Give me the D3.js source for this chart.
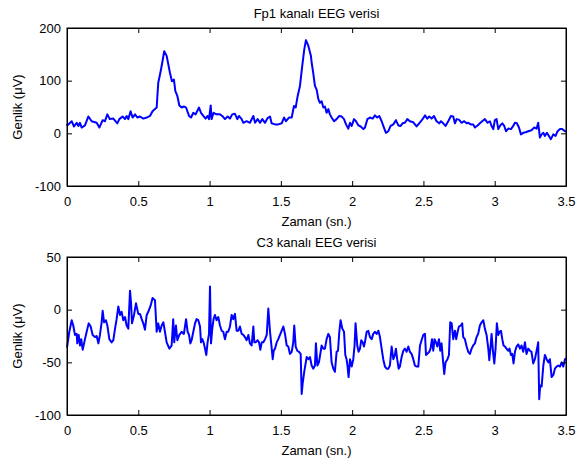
<!DOCTYPE html>
<meta charset="utf-8">
<script src="https://d3js.org/d3.v7.min.js"></script>
<style>
  body { margin: 0; background: #fff; }
  text { font-family: "Liberation Sans", Arial, sans-serif; }
</style>
<div id="chart"></div>
<script>
// values (time in s, amplitude in µV)
var fp1Time = [0,0.002,0.033,0.049,0.068,0.080,0.091,0.103,0.126,0.150,0.173,0.208,0.227,0.250,0.266,0.283,0.300,0.325,0.353,0.367,0.390,0.407,0.418,0.430,0.446,0.460,0.477,0.493,0.512,0.535,0.559,0.582,0.600,0.617,0.629,0.640,0.657,0.668,0.682,0.699,0.722,0.736,0.750,0.760,0.774,0.788,0.804,0.820,0.835,
  0.856,0.870,0.886,0.902,0.926,0.940,0.956,0.972,0.986,0.996,1.008,1.014,1.028,1.049,1.073,1.089,1.108,1.127,1.143,1.159,1.178,1.195,1.206,1.225,1.237,1.260,1.283,1.307,1.319,1.337,1.354,1.370,1.389,1.407,1.424,1.435,1.459,1.482,1.506,1.522,1.536,1.557,1.576,1.592,1.604,1.618,1.634,1.650,1.664,1.676,1.693,1.711,
  1.716,1.727,1.739,1.751,1.763,1.774,1.786,1.798,1.809,1.821,1.833,1.844,1.856,1.873,1.891,1.910,1.926,1.943,1.957,1.973,1.985,1.997,2.013,2.027,2.044,2.060,2.079,2.090,2.107,2.125,2.144,2.160,2.176,2.190,2.207,2.223,2.237,2.254,2.270,2.289,2.307,2.324,2.340,2.354,2.370,2.387,2.405,2.429,2.452,2.476,2.494,2.511,2.527,2.541,2.557,2.574,2.592,2.611,
  2.623,2.639,2.655,2.674,2.693,2.709,2.721,2.733,2.749,2.768,2.786,2.803,2.814,2.833,2.849,2.861,2.880,2.896,2.912,2.931,2.950,2.966,2.978,2.990,3.001,3.013,3.025,3.039,3.053,3.067,3.079,3.095,3.114,3.130,3.142,3.156,3.170,3.184,3.200,3.217,3.235,3.258,3.277,3.294,3.305,3.317,3.329,3.341,3.352,3.366,3.380,3.394,3.411,3.427,3.441,3.458,3.474,3.493,3.5];
var fp1Value = [18,15,23,13,20,14,20,11,15,32,23,20,11,25,23,36,27,28,19,27,32,27,33,27,42,30,36,30,32,28,30,33,42,46,49,96,118,134,156,147,115,99,102,80,71,53,49,51,49,
  33,30,39,36,49,39,33,28,33,27,53,27,39,36,36,33,27,32,28,36,37,27,33,27,20,23,20,33,20,27,20,27,20,29,32,19,17,17,19,30,23,30,30,52,49,71,90,128,159,177,166,147,
  134,115,90,83,65,58,61,49,51,39,46,36,30,23,27,33,32,27,17,9,20,14,27,23,15,13,8,11,27,30,28,34,30,33,23,11,1,4,14,17,25,15,14,19,20,27,23,21,13,21,27,34,28,32,28,33,23,19,
  23,19,14,23,33,32,19,27,26,20,23,19,20,17,17,11,15,19,23,27,20,23,14,8,25,27,8,15,19,14,4,9,8,14,20,19,11,-2,1,2,4,6,11,9,20,-8,-2,1,-5,1,-5,-11,-2,-5,4,8,8,4,4];

var c3Time = [0,0.016,0.033,0.044,0.056,0.068,0.072,0.082,0.091,0.100,0.110,0.126,0.138,0.152,0.166,0.180,0.196,0.208,0.220,0.231,0.243,0.250,0.260,0.273,0.283,0.297,0.313,0.325,0.337,0.348,0.360,0.372,0.383,0.395,0.407,0.418,0.430,0.442,0.449,0.456,0.470,0.484,0.500,0.512,0.524,0.535,0.547,0.559,0.570,0.587,0.600,0.617,0.629,0.640,0.652,0.664,0.676,0.687,0.699,0.718,0.734,0.745,0.752,0.764,0.774,0.788,0.804,0.820,0.835,0.846,
  0.856,0.865,0.874,0.886,0.898,0.909,0.921,0.933,0.940,0.949,0.958,0.968,0.977,0.986,0.996,1.003,1.010,1.019,1.028,1.038,1.049,1.061,1.073,1.085,1.096,1.108,1.120,1.131,1.143,1.155,1.166,1.178,1.190,1.202,1.213,1.225,1.237,1.248,1.260,1.272,1.283,1.295,1.307,1.314,1.323,1.337,1.347,1.356,1.366,1.377,1.389,1.401,1.412,1.424,1.436,1.443,1.450,1.459,1.471,1.482,1.494,1.506,1.517,1.529,1.541,1.552,1.564,1.576,1.587,1.594,1.604,1.615,1.627,1.639,1.646,1.653,1.664,1.681,1.693,
  1.704,1.716,1.727,1.739,1.746,1.756,1.767,1.779,1.786,1.798,1.809,1.821,1.833,1.844,1.856,1.868,1.879,1.891,1.901,1.910,1.919,1.931,1.943,1.952,1.961,1.968,1.975,1.985,1.997,2.008,2.017,2.024,2.036,2.045,2.055,2.064,2.074,2.083,2.092,2.102,2.113,2.125,2.137,2.148,2.160,2.172,2.184,2.195,2.207,2.218,2.230,2.242,2.254,2.265,2.277,2.289,2.300,2.307,2.316,2.326,2.335,2.347,2.359,2.370,2.382,2.394,2.405,2.417,2.429,2.440,2.452,2.464,2.476,2.487,2.499,2.511,2.518,2.527,2.541,2.550,2.560,2.569,2.578,2.588,2.597,
  2.609,2.618,2.627,2.639,2.646,2.655,2.669,2.679,2.688,2.698,2.709,2.721,2.730,2.740,2.749,2.763,2.772,2.779,2.791,2.803,2.814,2.826,2.838,2.849,2.861,2.873,2.884,2.896,2.908,2.920,2.931,2.943,2.955,2.962,2.971,2.978,2.988,2.997,3.006,3.015,3.025,3.034,3.044,3.053,3.062,3.072,3.083,3.095,3.104,3.114,3.123,3.132,3.142,3.153,3.165,3.177,3.188,3.200,3.212,3.223,3.235,3.247,3.258,3.270,3.282,3.294,3.305,3.312,3.319,3.329,3.341,3.352,3.364,3.376,3.387,3.399,3.411,3.422,3.434,3.446,3.458,3.469,3.481,3.493,3.5];
var c3Value = [-36,-21,-10,-15,-24,-23,-32,-24,-34,-28,-38,-28,-21,-13,-16,-24,-26,-25,-32,-24,-12,-1,-12,-10,-15,-28,-31,-29,-18,-9,3,-5,-2,-10,-7,-15,-18,18,7,-13,-5,6,-4,-4,-9,-13,-19,-5,-2,4,11,9,-21,-13,-21,-15,-12,-21,-31,-37,-34,-9,-31,-15,-29,-24,-21,-23,-9,-21,
  -24,-32,-29,-21,-13,-9,-10,-16,-31,-28,-31,-37,-43,-31,-23,22,-32,-18,-9,-5,-10,-7,-15,-20,-21,-28,-21,-21,-16,-5,-9,-4,-20,-20,-16,-23,-24,-26,-29,-24,-32,-34,-16,-31,-31,-29,-31,-38,-31,-31,-28,-24,1,-21,-37,-47,-39,-37,-31,-28,-24,-20,-16,-23,-34,-35,-42,-40,-31,-15,-35,-39,-40,-42,-80,-70,-59,-45,-47,
  -45,-53,-56,-53,-32,-53,-50,-40,-34,-37,-37,-28,-23,-26,-50,-56,-59,-40,-39,-21,-10,-18,-21,-43,-47,-54,-64,-47,-54,-47,-34,-13,-34,-40,-37,-29,-31,-35,-29,-21,-20,-26,-28,-23,-21,-23,-20,-26,-37,-47,-54,-56,-56,-53,-35,-47,-43,-37,-47,-56,-54,-45,-39,-37,-40,-35,-40,-42,-47,-53,-54,-54,-34,-29,-24,-23,-43,-42,-40,-37,-28,-39,-28,-31,-35,
  -28,-39,-32,-51,-61,-50,-47,-43,-12,-13,-28,-20,-28,-21,-16,-15,-13,-26,-28,-35,-40,-42,-37,-34,-32,-26,-23,-15,-12,-10,-18,-24,-37,-48,-35,-23,-40,-51,-37,-13,-24,-21,-20,-28,-34,-35,-37,-39,-37,-43,-42,-51,-40,-35,-33,-37,-34,-40,-31,-42,-37,-39,-40,-51,-47,-39,-31,-85,-72,-73,-53,-43,-47,-50,-47,-64,-62,-56,-54,-53,-54,-50,-54,-47,-46];

var xTicks = [0, 0.5, 1, 1.5, 2, 2.5, 3, 3.5];
var fp1Ticks = [-100, 0, 100, 200];
var c3Ticks = [-100, -50, 0, 50];

var W = 576, H = 461;
var svg = d3.select("#chart").append("svg")
  .attr("width", W).attr("height", H);

var left = 67, right = 566;
var fs = "13px";

function panel(top, bottom, yDomain, yTicks, times, values, title) {
  var x = d3.scaleLinear().domain([0, 3.5]).range([left, right]);
  var y = d3.scaleLinear().domain(yDomain).range([bottom, top]);
  var g = svg.append("g");

  // line
  var line = d3.line()
    .x(function(d) { return x(d[0]); })
    .y(function(d) { return y(d[1]); });
  g.append("path")
    .datum(d3.zip(times, values))
    .attr("fill", "none")
    .attr("stroke", "#0000ff")
    .attr("stroke-width", 2)
    .attr("stroke-linejoin", "round")
    .attr("d", line);

  // axes, ticks pointing inward like matlab
  var tk = 5;
  var plain = function(d) { return String(d); };
  g.append("g").attr("transform", "translate(0," + bottom + ")")
    .call(d3.axisBottom(x).tickValues(xTicks).tickSizeInner(-tk).tickSizeOuter(0).tickPadding(11)
      .tickFormat(plain));
  g.append("g").attr("transform", "translate(0," + top + ")")
    .call(d3.axisTop(x).tickValues(xTicks).tickSizeInner(-tk).tickSizeOuter(0).tickFormat(""));
  g.append("g").attr("transform", "translate(" + left + ",0)")
    .call(d3.axisLeft(y).tickValues(yTicks).tickSizeInner(-tk).tickSizeOuter(0).tickPadding(6)
      .tickFormat(plain));
  g.append("g").attr("transform", "translate(" + right + ",0)")
    .call(d3.axisRight(y).tickValues(yTicks).tickSizeInner(-tk).tickSizeOuter(0).tickFormat(""));

  g.selectAll(".domain").attr("stroke", "#000");
  g.selectAll(".tick line").attr("stroke", "#000");
  g.selectAll(".tick text").attr("fill", "#000")
    .style("font-size", fs)
    .style("font-family", "'Liberation Sans', Arial, sans-serif");

  g.append("rect")
    .attr("x", left).attr("y", top)
    .attr("width", right - left).attr("height", bottom - top)
    .attr("fill", "none").attr("stroke", "#000").attr("stroke-width", 1);

  g.append("text")
    .attr("x", (left + right) / 2).attr("y", top - 10)
    .attr("text-anchor", "middle")
    .style("font-size", fs)
    .text(title);
  g.append("text")
    .attr("x", (left + right) / 2).attr("y", bottom + 40)
    .attr("text-anchor", "middle")
    .style("font-size", fs)
    .text("Zaman (sn.)");
  g.append("text")
    .attr("transform", "translate(22," + (top + bottom) / 2 + ")rotate(-90)")
    .attr("text-anchor", "middle")
    .style("font-size", fs)
    .text("Genlik (\u03bcV)");
}

panel(28, 186, [-100, 200], fp1Ticks, fp1Time, fp1Value, "Fp1 kanal\u0131 EEG verisi");
panel(257, 415, [-100, 50], c3Ticks, c3Time, c3Value, "C3 kanal\u0131 EEG verisi");
</script>
